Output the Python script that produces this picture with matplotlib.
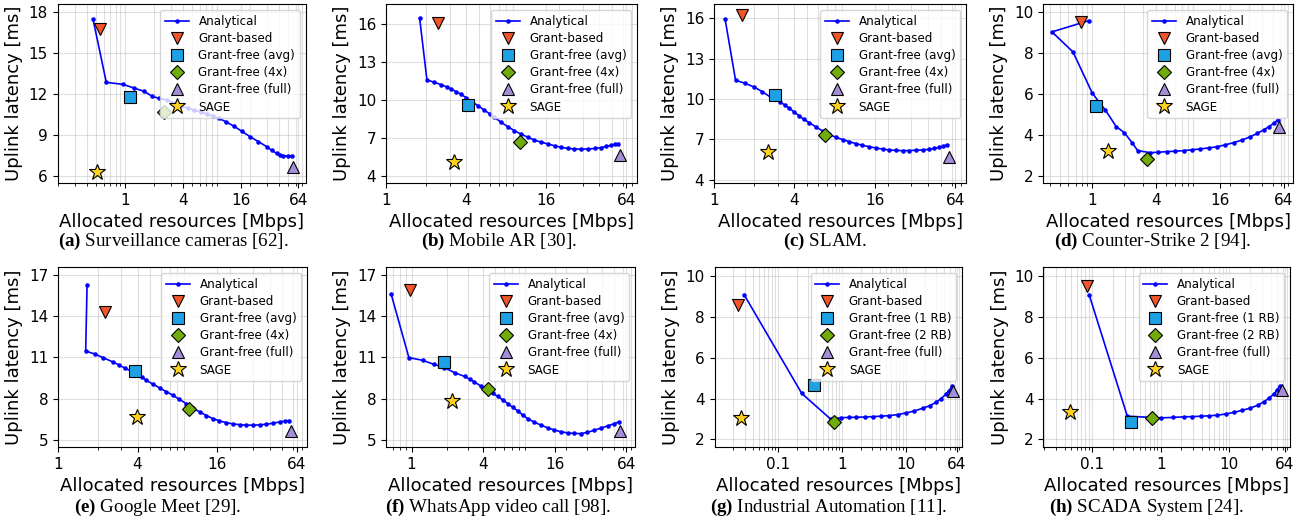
import matplotlib.pyplot as plt
from matplotlib.ticker import NullFormatter

plt.rcParams['mathtext.fontset'] = 'custom'
plt.rcParams['mathtext.bf'] = 'Liberation Serif:bold'
plt.rcParams['mathtext.rm'] = 'Liberation Serif'

# ---- data (x in Mbps, y in ms) ----
# (a) Surveillance cameras
ana_x_a = [0.466, 0.641, 0.96, 1.25, 1.59, 1.93, 2.27, 2.77, 3.3, 3.80, 4.5, 5.23, 6.2, 7.17, 8.3, 9.5,
           11.4, 13.6, 16.5, 20.2, 24.5, 30.0, 34.0, 38.1, 41.0, 44.7, 50.0, 55.4]
ana_y_a = [17.46, 12.83, 12.68, 12.41, 12.17, 11.80, 11.66, 11.54, 11.3, 11.1, 10.95, 10.8, 10.65, 10.51, 10.35, 10.2,
           9.93, 9.63, 9.25, 8.85, 8.5, 8.12, 7.85, 7.63, 7.52, 7.46, 7.45, 7.46]
pts_x_a = [0.547, 1.12, 2.56, 56.8, 0.513]
pts_y_a = [16.76, 11.73, 10.68, 6.61, 6.27]

# (b) Mobile AR
ana_x_b = [1.79, 2.03, 2.28, 2.59, 2.85, 3.08, 3.35, 3.66, 4.0, 4.35, 4.9, 5.47, 6.0, 6.51, 7.3, 8.21, 9.2, 10.3,
           11.6, 13.0, 14.6, 16.4, 18.5, 20.7, 23.2, 26.0, 29.2, 32.7, 37.0, 41.2, 45.0, 49.0, 52.5, 55.6]
ana_y_b = [16.45, 11.59, 11.43, 11.22, 11.05, 10.88, 10.68, 10.46, 10.2, 9.93, 9.57, 9.22, 8.93, 8.65, 8.27, 7.91, 7.6, 7.33,
           7.08, 6.86, 6.69, 6.55, 6.4, 6.28, 6.2, 6.15, 6.14, 6.15, 6.19, 6.26, 6.35, 6.44, 6.51, 6.57]
pts_x_b = [2.44, 4.1, 10.2, 57.0, 3.22]
pts_y_b = [16.05, 9.64, 6.73, 5.68, 5.15]

# (c) SLAM
ana_x_c = [1.21, 1.45, 1.71, 1.99, 2.30, 2.66, 3.11, 3.37, 3.65, 4.0, 4.34, 4.7, 5.15, 5.8, 6.49, 7.3, 8.16, 9.2,
           10.3, 11.5, 12.9, 14.5, 16.3, 18.3, 20.5, 23.0, 25.8, 29.0, 32.4, 36.5, 40.8, 44.5, 48.6, 52.0, 55.4]
ana_y_c = [15.95, 11.40, 11.17, 10.90, 10.55, 10.13, 9.81, 9.57, 9.32, 9.03, 8.75, 8.5, 8.25, 7.93, 7.63, 7.38, 7.16, 6.99,
           6.84, 6.7, 6.57, 6.46, 6.37, 6.29, 6.22, 6.19, 6.17, 6.18, 6.20, 6.23, 6.27, 6.34, 6.42, 6.51, 6.6]
pts_x_c = [1.63, 2.86, 6.79, 57.0, 2.55]
pts_y_c = [16.25, 10.28, 7.31, 5.73, 6.10]

# (d) Counter-Strike 2
ana_x_d = [0.937, 0.42, 0.663, 1.0, 1.155, 1.335, 1.69, 2.01, 2.38, 2.69, 3.54, 4.2, 5.07, 6.1, 7.27, 8.7, 10.4,
           12.5, 15.0, 18.0, 21.5, 26.0, 30.9, 36.0, 41.1, 46.0, 51.2, 55.8]
ana_y_d = [9.56, 9.01, 8.03, 6.05, 5.61, 5.20, 4.39, 4.10, 3.61, 3.22, 3.12, 3.14, 3.17, 3.19, 3.22, 3.26, 3.30,
           3.35, 3.41, 3.5, 3.61, 3.74, 3.90, 4.06, 4.23, 4.38, 4.55, 4.72]
pts_x_d = [0.794, 1.10, 3.29, 57.4, 1.41]
pts_y_d = [9.51, 5.41, 2.80, 4.39, 3.22]

# (e) Google Meet
ana_x_e = [1.66, 1.62, 1.89, 2.19, 2.61, 2.9, 3.2, 3.55, 3.92, 4.3, 4.66, 5.25, 5.89, 6.6, 7.42, 8.3, 9.36, 10.5,
           11.8, 13.3, 14.9, 16.7, 18.8, 21.1, 23.7, 26.6, 29.9, 33.6, 37.8, 42.5, 47.6, 52.0, 56.0]
ana_y_e = [16.27, 11.47, 11.26, 10.99, 10.67, 10.45, 10.23, 10.02, 9.82, 9.58, 9.33, 9.05, 8.77, 8.5, 8.24, 7.94, 7.63, 7.32,
           7.02, 6.76, 6.53, 6.37, 6.24, 6.15, 6.09, 6.06, 6.05, 6.08, 6.12, 6.2, 6.29, 6.35, 6.39]
pts_x_e = [2.28, 3.80, 9.76, 57.7, 3.99]
pts_y_e = [14.32, 9.99, 7.21, 5.63, 6.63]

# (f) WhatsApp video call
ana_x_f = [0.675, 0.95, 1.245, 1.54, 1.89, 2.30, 2.79, 3.08, 3.38, 3.85, 4.38, 4.8, 5.31, 5.85, 6.45, 7.1, 7.82,
           8.6, 9.5, 10.8, 12.3, 14.0, 15.9, 18.0, 20.5, 23.3, 26.6, 30.0, 34.4, 39.0, 44.6, 50.0, 55.1]
ana_y_f = [15.61, 10.99, 10.79, 10.50, 10.26, 9.89, 9.62, 9.42, 9.21, 8.9, 8.60, 8.38, 8.16, 7.9, 7.63, 7.36, 7.09,
           6.8, 6.53, 6.27, 6.05, 5.86, 5.70, 5.58, 5.49, 5.45, 5.44, 5.53, 5.68, 5.84, 6.0, 6.15, 6.29]
pts_x_f = [0.968, 1.87, 4.38, 57.0, 2.18]
pts_y_f = [15.90, 10.67, 8.72, 5.61, 7.80]

# (g) Industrial Automation
ana_x_g = [0.0299, 0.236, 0.68, 0.98, 1.3, 1.68, 2.3, 3.06, 4.1, 5.58, 7.5, 10.2, 13.8, 18.6, 24.0, 30.0,
           36.0, 43.1, 48.0, 53.5]
ana_y_g = [9.07, 4.26, 2.98, 3.07, 3.08, 3.09, 3.1, 3.12, 3.14, 3.17, 3.22, 3.30, 3.4, 3.53, 3.66, 3.82,
           4.0, 4.23, 4.4, 4.60]
pts_x_g = [0.024, 0.373, 0.75, 54.8, 0.0259]
pts_y_g = [8.62, 4.68, 2.85, 4.39, 3.06]

# (h) SCADA System
ana_x_h = [0.0914, 0.327, 1.0, 1.5, 2.19, 2.9, 3.83, 5.1, 6.69, 8.9, 11.7, 15.5, 20.4, 26.0, 32.0, 38.0,
           44.7, 50.0, 54.7]
ana_y_h = [9.07, 3.14, 3.06, 3.08, 3.11, 3.12, 3.14, 3.16, 3.19, 3.25, 3.33, 3.43, 3.54, 3.68, 3.85, 4.03,
           4.23, 4.42, 4.63]
pts_x_h = [0.0836, 0.366, 0.739, 57.8, 0.0473]
pts_y_h = [9.54, 2.88, 3.07, 4.42, 3.33]

labels_video = ['Grant-based', 'Grant-free (avg)', 'Grant-free (4x)', 'Grant-free (full)', 'SAGE']
labels_iot = ['Grant-based', 'Grant-free (1 RB)', 'Grant-free (2 RB)', 'Grant-free (full)', 'SAGE']

captions = [
    r'$\mathbf{(a)}$ Surveillance cameras [62].',
    r'$\mathbf{(b)}$ Mobile AR [30].',
    r'$\mathbf{(c)}$ SLAM.',
    r'$\mathbf{(d)}$ Counter-Strike 2 [94].',
    r'$\mathbf{(e)}$ Google Meet [29].',
    r'$\mathbf{(f)}$ WhatsApp video call [98].',
    r'$\mathbf{(g)}$ Industrial Automation [11].',
    r'$\mathbf{(h)}$ SCADA System [24].',
]

xticks_pow2 = [1, 4, 16, 64]
xticks_pow10 = [0.1, 1, 10, 64]
yticks = [[6, 9, 12, 15, 18], [4, 7, 10, 13, 16], [4, 7, 10, 13, 16], [2, 4, 6, 8, 10],
          [5, 8, 11, 14, 17], [5, 8, 11, 14, 17], [2, 4, 6, 8, 10], [2, 4, 6, 8, 10]]

panels = [
    (ana_x_a, ana_y_a, pts_x_a, pts_y_a),
    (ana_x_b, ana_y_b, pts_x_b, pts_y_b),
    (ana_x_c, ana_y_c, pts_x_c, pts_y_c),
    (ana_x_d, ana_y_d, pts_x_d, pts_y_d),
    (ana_x_e, ana_y_e, pts_x_e, pts_y_e),
    (ana_x_f, ana_y_f, pts_x_f, pts_y_f),
    (ana_x_g, ana_y_g, pts_x_g, pts_y_g),
    (ana_x_h, ana_y_h, pts_x_h, pts_y_h),
]

# ---- layout (pixels) ----
W, H = 1312, 525
ax_left = [57.7, 386, 714, 1043, 58, 386, 714.7, 1043.3]
ax_right = [306, 637, 966, 1293, 307, 635, 962, 1290]
row_top = [4, 267]
row_bot = [183, 447]
xlims = [(0.2, 76.8), (1, 76.8), (1, 76.8), (0.346, 77.8),
         (1, 76.8), (0.61, 75.7), (0.0102, 76.8), (0.0195, 76.8)]
ylims = [(5.47, 18.56), (3.47, 17.58), (3.77, 17.06), (1.64, 10.37),
         (4.46, 17.61), (4.46, 17.61), (1.63, 10.46), (1.63, 10.46)]
cap_x = [173, 498.5, 825, 1153, 158, 498, 828.5, 1146]
cap_y = [241.7, 507]

styles = [('v', '#F2552A', 8.5), ('s', '#1EA0E4', 8.5), ('D', '#70AD0C', 7.5),
          ('^', '#A58ED8', 8.5), ('*', '#FFD21F', 12)]

fig = plt.figure(figsize=(W / 100, H / 100), dpi=100)

for i, (ax_, ay_, px_, py_) in enumerate(panels):
    r = i // 4
    l, rt = ax_left[i], ax_right[i]
    t, b = row_top[r], row_bot[r]
    ax = fig.add_axes([l / W, 1 - b / H, (rt - l) / W, (b - t) / H])

    ax.plot(ax_, ay_, '-', marker='.', ms=4.5, lw=1.2, color='blue', label='Analytical')
    labs = labels_video if i < 6 else labels_iot
    for (m, c, ms), xx, yy, lab in zip(styles, px_, py_, labs):
        ax.plot([xx], [yy], ls='none', marker=m, ms=ms, mfc=c, mec='black', mew=0.8, label=lab)

    ax.set_xscale('log')
    ticks = xticks_pow2 if i < 6 else xticks_pow10
    ax.set_xticks(ticks, [str(v) for v in ticks])
    ax.xaxis.set_minor_formatter(NullFormatter())
    ax.set_yticks(yticks[i])
    ax.set_xlim(*xlims[i])
    ax.set_ylim(*ylims[i])
    ax.tick_params(labelsize=11)
    ax.grid(True, which='both', color='#b0b0b0', alpha=0.4, lw=0.8)
    ax.set_xlabel('Allocated resources [Mbps]', fontsize=13)
    ax.set_ylabel('Uplink latency [ms]', fontsize=13)
    ax.legend(loc='upper right', fontsize=8.6, labelspacing=0.35)

    fig.text(cap_x[i] / W, 1 - cap_y[r] / H, captions[i], ha='center', va='center',
             family='Liberation Serif', fontsize=13.7)

fig.savefig('out.png', dpi=100)
